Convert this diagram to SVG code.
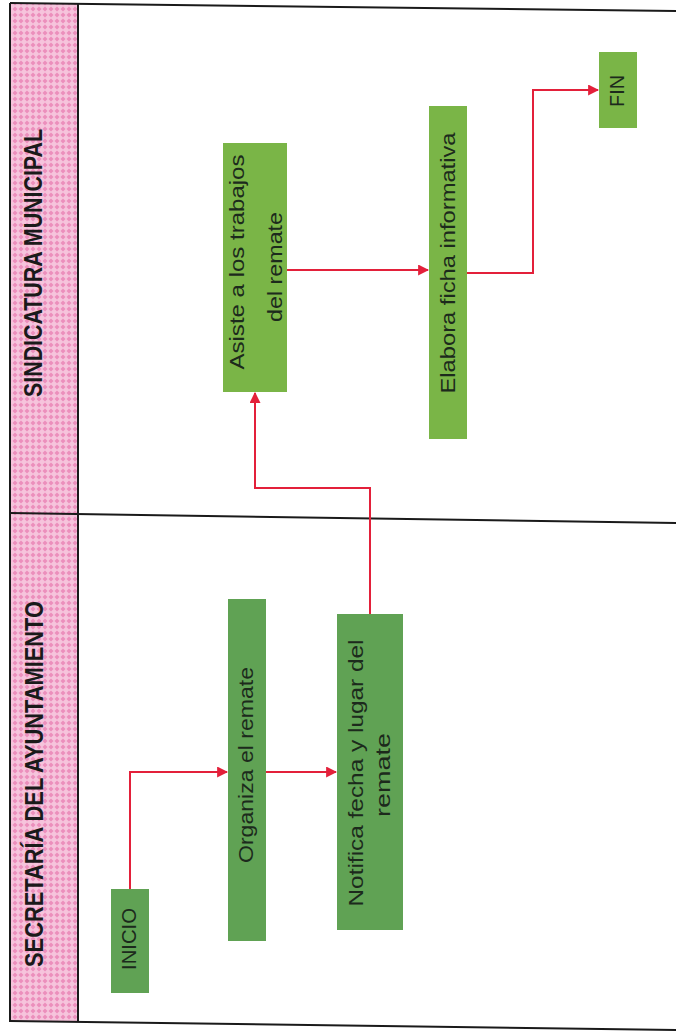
<svg xmlns="http://www.w3.org/2000/svg" width="676" height="1031" viewBox="0 0 676 1031">
<defs>
<pattern id="hatch" width="6" height="6" patternUnits="userSpaceOnUse">
<rect width="6" height="6" fill="#f6c4dc"/>
<path d="M3,0.5 L5.5,3 L3,5.5 L0.5,3 Z" fill="#ec8fbc"/>
</pattern>
<marker id="arr" viewBox="0 0 10 10" refX="9" refY="5" markerWidth="5.5" markerHeight="5.5" orient="auto" markerUnits="strokeWidth">
<path d="M0,0 L10,5 L0,10 Z" fill="#e3203a"/>
</marker>
<style>
.frame{stroke:#1a1a1a;stroke-width:2;fill:none}
.title{font-family:"Liberation Sans",Arial,sans-serif;font-weight:bold;font-size:25px;fill:#1a1a1a}
.lbl{font-family:"Liberation Sans",Arial,sans-serif;font-size:20px;fill:#1c2a1c}
.nA{fill:#60a254}
.nB{fill:#7ab547}
.conn{stroke:#e3203a;stroke-width:2;fill:none}
</style>
</defs>
<rect x="0" y="0" width="676" height="1031" fill="#ffffff"/>
<g id="lanes">
<polygon points="11,3 78,4 78,1022 11,1021" fill="url(#hatch)"/>
<line class="frame" x1="10" y1="3" x2="676" y2="11"/>
<line class="frame" x1="10" y1="513" x2="676" y2="523"/>
<line class="frame" x1="10" y1="1021" x2="676" y2="1030"/>
<line class="frame" x1="10" y1="3" x2="10" y2="1022"/>
<line class="frame" x1="78" y1="4" x2="78" y2="1022"/>
<text class="title" transform="translate(42,263) rotate(-90)" text-anchor="middle" textLength="268" lengthAdjust="spacingAndGlyphs">SINDICATURA MUNICIPAL</text>
<text class="title" transform="translate(43,784) rotate(-90)" text-anchor="middle" textLength="366" lengthAdjust="spacingAndGlyphs">SECRETARÍA DEL AYUNTAMIENTO</text>
</g>
<g id="connectors">
<path class="conn" d="M130,889 V772 H227" marker-end="url(#arr)"/>
<path class="conn" d="M266,772 H336" marker-end="url(#arr)"/>
<path class="conn" d="M370,614 V488 H255 V393" marker-end="url(#arr)"/>
<path class="conn" d="M287,270 H428" marker-end="url(#arr)"/>
<path class="conn" d="M467,273 H533 V90 H598" marker-end="url(#arr)"/>
</g>
<g id="inicio">
<rect class="nA" x="111" y="889" width="38" height="104"/>
<text class="lbl" transform="translate(136,939) rotate(-90)" text-anchor="middle" textLength="62" lengthAdjust="spacingAndGlyphs">INICIO</text>
</g>
<g id="organiza">
<rect class="nA" x="228" y="599" width="38" height="342"/>
<text class="lbl" transform="translate(253,765) rotate(-90)" text-anchor="middle" textLength="196" lengthAdjust="spacingAndGlyphs">Organiza el remate</text>
</g>
<g id="notifica">
<rect class="nA" x="337" y="614" width="66" height="316"/>
<text class="lbl" transform="translate(363,773) rotate(-90)" text-anchor="middle" textLength="267" lengthAdjust="spacingAndGlyphs">Notifica fecha y lugar del</text>
<text class="lbl" transform="translate(390,775) rotate(-90)" text-anchor="middle" textLength="84" lengthAdjust="spacingAndGlyphs">remate</text>
</g>
<g id="asiste">
<rect class="nB" x="223" y="143" width="64" height="249"/>
<text class="lbl" transform="translate(244,262) rotate(-90)" text-anchor="middle" textLength="215" lengthAdjust="spacingAndGlyphs">Asiste a los trabajos</text>
<text class="lbl" transform="translate(282,267) rotate(-90)" text-anchor="middle" textLength="110" lengthAdjust="spacingAndGlyphs">del remate</text>
</g>
<g id="elabora">
<rect class="nB" x="429" y="106" width="38" height="333"/>
<text class="lbl" transform="translate(455,263) rotate(-90)" text-anchor="middle" textLength="261" lengthAdjust="spacingAndGlyphs">Elabora ficha informativa</text>
</g>
<g id="fin">
<rect class="nB" x="599" y="52" width="38" height="76"/>
<text class="lbl" transform="translate(624,91) rotate(-90)" text-anchor="middle" textLength="32" lengthAdjust="spacingAndGlyphs">FIN</text>
</g>
</svg>
